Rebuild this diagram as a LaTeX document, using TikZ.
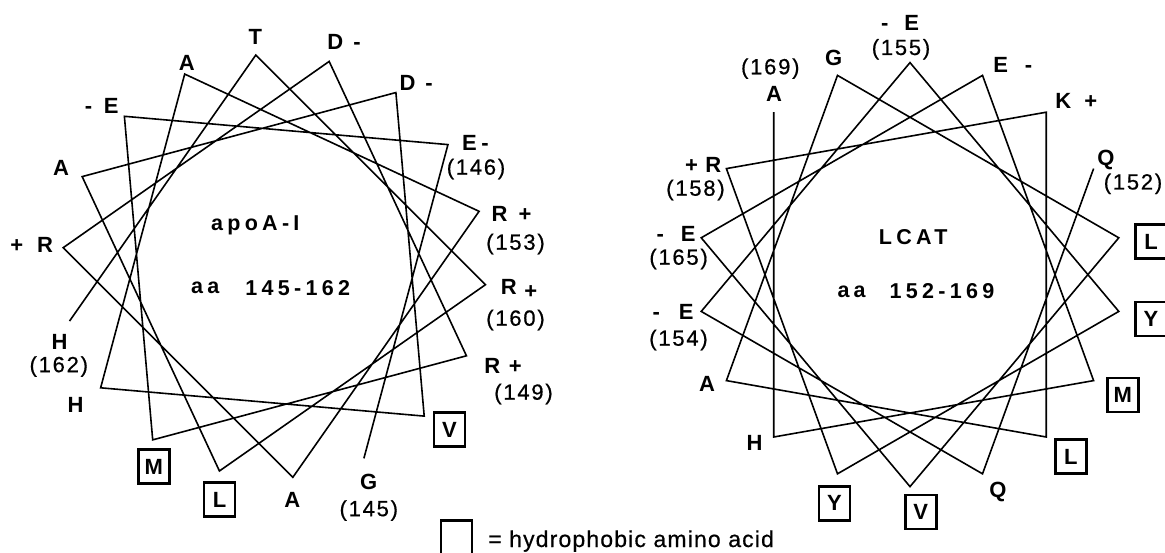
\documentclass[tikz,border=0pt]{standalone}
\usepackage{fontspec}
\setmainfont{Liberation Sans}
\newfontfamily\numf[LetterSpace=8,FakeBold=0.6]{Liberation Sans}
\newfontfamily\ctrf[LetterSpace=20]{Liberation Sans}
\newfontfamily\legf[LetterSpace=5,FakeBold=0.6]{Liberation Sans}
\newcommand\gl[3]{#1\hspace{#2pt}#3}
\begin{document}
\begin{tikzpicture}[x=1pt,y=-1pt,
  wheel/.style={line width=1.6pt, line join=miter, miter limit=12},
  lab/.style={font=\fontsize{22}{24}\selectfont\bfseries, inner sep=0pt},
  num/.style={font=\fontsize{22}{24}\selectfont\numf, inner sep=0pt},
  ctr/.style={font=\fontsize{21.5}{24}\selectfont\ctrf\bfseries, inner sep=0pt},
  hbox/.style={draw, line width=2.6pt, minimum width=31pt, minimum height=34pt, inner sep=0pt, font=\fontsize{22}{24}\selectfont\bfseries},
  leg/.style={font=\fontsize{23}{25}\selectfont\legf, inner sep=0pt}]
\useasboundingbox (0,0) rectangle (1165,552);

% ---------- left wheel: apoA-I 145-162 ----------
\foreach \k in {0,...,17} {
  \pgfmathsetmacro\ang{-65+100*\k}
  \pgfmathtruncatemacro\res{145+\k}
  \pgfmathsetmacro\px{274.3+212*cos(\ang)}
  \pgfmathsetmacro\py{266.2-212*sin(\ang)}
  \coordinate (L\res) at (\px,\py);
}
\draw[wheel] (L145) \foreach \r in {146,...,162}{ -- (L\r) };

% ---------- right wheel: LCAT 152-169 ----------
\foreach \k in {0,...,17} {
  \pgfmathsetmacro\ang{30-100*\k}
  \pgfmathtruncatemacro\res{152+\k}
  \pgfmathsetmacro\px{910+212*cos(\ang)}
  \pgfmathsetmacro\py{274.6-212*sin(\ang)}
  \coordinate (R\res) at (\px,\py);
}
\draw[wheel] (R152) \foreach \r in {153,...,169}{ -- (R\r) };

% ---------- left labels ----------
\node[lab] (lT) at (255.3,37) {T};
\node[lab] (lD1) at (344,41.5) {\gl{D}{10}{-}};
\node[lab] (lD2) at (416.2,82.7) {\gl{D}{10}{-}};
\node[lab] (lE1) at (101.7,105.6) {\gl{-}{11.5}{E}};
\node[lab] (lA1) at (186.8,62.7) {A};
\node[lab] (lE146) at (475.4,142.6) {\gl{E}{4.5}{-}};
\node[num] (n146) at (476,169) {(146)};
\node[lab] (lA2) at (61,168.3) {A};
\node[lab] (lR151) at (31.7,244.5) {\gl{+}{14}{R}};
\node[lab] (lR153) at (511.6,213.5) {\gl{R}{11}{+}};
\node[num] (n153) at (515.5,244) {(153)};
\node[lab] (lR160) at (519,288.5) {\gl{R}{7.5}{\raisebox{-4pt}{+}}};
\node[num] (n160) at (515.5,320) {(160)};
\node[lab] (lR149) at (503,366) {\gl{R}{8.5}{+}};
\node[num] (n149) at (523.5,394) {(149)};
\node[hbox] (bV1) at (449.5,429.5) {V};
\node[lab] (lG) at (368.8,482.3) {G};
\node[num] (n145) at (368.8,510.5) {(145)};
\node[lab] (lA3) at (292.3,500) {A};
\node[hbox] (bL1) at (219.5,499.5) {L};
\node[hbox] (bM1) at (153.8,466.7) {M};
\node[lab] (lH1) at (75.5,405) {H};
\node[lab] (lH162) at (59.5,341.6) {H};
\node[num] (n162) at (58.8,366.5) {(162)};
\node[ctr] (tapo) at (255.3,225.3) {apoA-I};
\node[ctr] (taa1) at (205.3,288) {aa};
\node[ctr] (trange1) at (297.8,288) {145-162};

% ---------- right labels ----------
\node[lab] (rE155) at (900.1,23) {\gl{-}{16}{E}};
\node[num] (n155) at (901,49.3) {(155)};
\node[lab] (rG) at (833.7,58.1) {G};
\node[num] (n169) at (770.3,68.6) {(169)};
\node[lab] (rA169) at (774,94.3) {A};
\node[lab] (rE166) at (1012.8,65.1) {\gl{E}{17}{-}};
\node[lab] (rK) at (1076.3,101.4) {\gl{K}{13}{+}};
\node[lab] (rQ152) at (1106,160.2) {Q};
\node[num] (n152) at (1133,183.8) {(152)};
\node[hbox] (bL2) at (1151,241.5) {L};
\node[hbox] (bY1) at (1151,319) {Y};
\node[hbox] (bM2) at (1122.8,395) {M};
\node[hbox] (bL3) at (1070.8,456.7) {L};
\node[lab] (rQ153) at (997.9,492.2) {Q};
\node[hbox] (bV2) at (920.7,512) {V};
\node[hbox] (bY2) at (834.5,503.3) {Y};
\node[lab] (rH) at (754.6,442.9) {H};
\node[lab] (rA161) at (707,383.7) {A};
\node[lab] (rE154) at (673,311.5) {\gl{-}{19}{E}};
\node[num] (n154) at (678.5,340) {(154)};
\node[lab] (rE165) at (676,234) {\gl{-}{17}{E}};
\node[num] (n165) at (678.6,259) {(165)};
\node[lab] (rR158) at (703.2,165) {\gl{+}{7.5}{R}};
\node[num] (n158) at (695.5,190) {(158)};
\node[ctr] (tlcat) at (913.2,236.6) {LCAT};
\node[ctr] (taa2) at (851.6,291.5) {aa};
\node[ctr] (trange2) at (942,291.5) {152-169};

% ---------- legend ----------
\node[hbox] (legbox) at (456.3,537.5) {};
\node[leg, anchor=base west] (legtext) at (488,547) {= hydrophobic amino acid};
\end{tikzpicture}
\end{document}
